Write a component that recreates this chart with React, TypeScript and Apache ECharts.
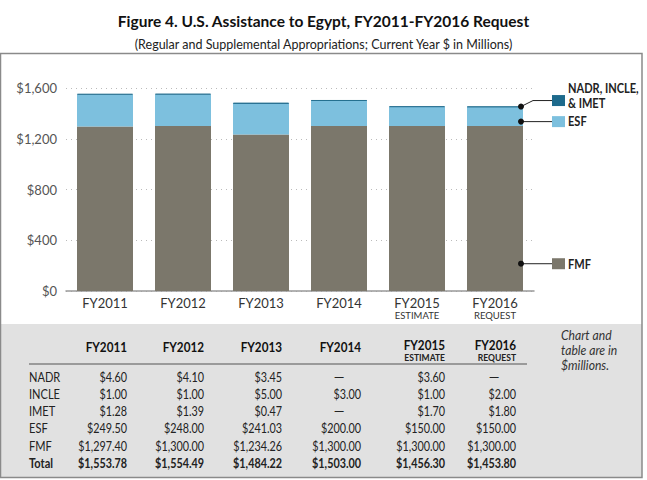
import React, { useEffect, useRef } from "react";
import * as echarts from "echarts";

const categories = ["FY2011", "FY2012", "FY2013", "FY2014", "FY2015", "FY2016"];
const categorySub = ["", "", "", "", "ESTIMATE", "REQUEST"];
const nadr: (number | null)[] = [4.6, 4.1, 3.45, null, 3.6, null];
const incle: (number | null)[] = [1.0, 1.0, 5.0, 3.0, 1.0, 2.0];
const imet: (number | null)[] = [1.28, 1.39, 0.47, null, 1.7, 1.8];
const esf = [249.5, 248.0, 241.03, 200.0, 150.0, 150.0];
const fmf = [1297.4, 1300.0, 1234.26, 1300.0, 1300.0, 1300.0];
const total = [1553.78, 1554.49, 1484.22, 1503.0, 1456.3, 1453.8];
const yTicks = [0, 400, 800, 1200, 1600];

const smallSum = categories.map((_, i) => (nadr[i] || 0) + (incle[i] || 0) + (imet[i] || 0));

const FONT = "Lato, 'Noto Sans', sans-serif";
const C_FMF = "#7b776b";
const C_ESF = "#7dc0de";
const C_DARK = "#1d6a8c";

const fmtMoney = (v: number) =>
  "$" + v.toLocaleString("en-US", { minimumFractionDigits: 2, maximumFractionDigits: 2 });

const txt = (
  text: string,
  x: number,
  y: number,
  font: string,
  align: string,
  sx: number,
  extra: any = {}
) => ({
  type: "text",
  x,
  y,
  scaleX: sx,
  z: 21,
  style: { text, align, verticalAlign: "middle", font, fill: "#222", ...extra },
});

export default function App() {
  const ref = useRef<HTMLDivElement>(null);
  useEffect(() => {
    if (!ref.current) return;
    const chart = echarts.init(ref.current, undefined, { renderer: "svg" });
    const option: any = {
      animation: false,
      backgroundColor: "#ffffff",
      textStyle: { fontFamily: FONT },
      title: [
        {
          text: "Figure 4. U.S. Assistance to Egypt, FY2011-FY2016 Request",
          left: "center",
          top: 8,
          textStyle: { fontSize: 15.5, fontWeight: "bold", color: "#111", fontFamily: FONT },
        },
        {
          text: "(Regular and Supplemental Appropriations; Current Year $ in Millions)",
          left: "center",
          top: 33,
          textStyle: { fontSize: 12.5, fontWeight: "normal", color: "#222", fontFamily: FONT },
        },
      ],
      grid: { left: 66, right: 113, top: 88, bottom: 189, containLabel: false },
      xAxis: {
        type: "category",
        data: categories,
        axisLine: { lineStyle: { color: "#999", width: 1.5 } },
        axisTick: { show: false },
        axisLabel: {
          interval: 0,
          margin: 5,
          color: "#333",
          fontSize: 13,
          fontFamily: FONT,
          formatter: (v: string, i: number) =>
            categorySub[i] ? `{a|${v}}\n{b|${categorySub[i]}}` : `{a|${v}}`,
          rich: {
            a: { fontSize: 13, color: "#333", fontFamily: FONT, lineHeight: 14 },
            b: { fontSize: 9.5, color: "#333", fontFamily: FONT, lineHeight: 10 },
          },
        },
      },
      yAxis: {
        type: "value",
        min: 0,
        max: 1600,
        interval: 400,
        axisLine: { show: false },
        axisTick: { show: false },
        axisLabel: {
          margin: 9,
          color: "#555",
          fontSize: 13,
          fontFamily: FONT,
          formatter: (v: number) => (yTicks.includes(v) ? "$" + v.toLocaleString("en-US") : ""),
        },
        splitLine: { lineStyle: { color: "#bbb", type: [1, 4], width: 1 } },
      },
      series: [
        {
          name: "FMF",
          type: "bar",
          stack: "t",
          data: fmf,
          barWidth: 56,
          itemStyle: { color: C_FMF },
        },
        {
          name: "ESF",
          type: "bar",
          stack: "t",
          data: esf,
          barWidth: 56,
          itemStyle: { color: C_ESF },
        },
        {
          name: "NADR, INCLE, & IMET",
          type: "bar",
          stack: "t",
          data: smallSum,
          barWidth: 56,
          itemStyle: { color: C_DARK, borderColor: C_DARK, borderWidth: 0.8 },
        },
      ],
    };
    chart.setOption(option);

    const g: any[] = [];
    g.push({
      type: "rect",
      z: -10,
      shape: { x: 0, y: 324, width: 642, height: 154 },
      style: { fill: "#e1e1e1" },
      silent: true,
    });
    g.push({
      type: "rect",
      z: 10,
      shape: { x: 0.5, y: 53.5, width: 641.5, height: 424 },
      style: { fill: "none", stroke: "#8a8a8a", lineWidth: 1.5 },
      silent: true,
    });
    g.push({
      type: "line",
      shape: { x1: 29, y1: 364, x2: 527, y2: 364 },
      style: { stroke: "#9a9a9a", lineWidth: 2 },
    });
    const colRight = [127, 204, 282, 361, 445, 516];
    categories.forEach((c, i) => {
      g.push(
        txt(c, colRight[i], categorySub[i] ? 345 : 347, `bold 13px ${FONT}`, "right", 0.9, {
          fill: "#111",
        })
      );
      if (categorySub[i]) {
        g.push(txt(categorySub[i], colRight[i], 357.5, `bold 9.5px ${FONT}`, "right", 0.9));
      }
    });
    const rows: { label: string; vals: (number | null)[]; bold?: boolean }[] = [
      { label: "NADR", vals: nadr },
      { label: "INCLE", vals: incle },
      { label: "IMET", vals: imet },
      { label: "ESF", vals: esf },
      { label: "FMF", vals: fmf },
      { label: "Total", vals: total, bold: true },
    ];
    const rowY = [377, 394, 411, 428, 446, 463];
    rows.forEach((r, ri) => {
      const font = r.bold ? `bold 13.5px ${FONT}` : `13.5px ${FONT}`;
      g.push(txt(r.label, 29, rowY[ri], font, "left", 0.82));
      r.vals.forEach((v, ci) => {
        if (v === null) {
          g.push(txt("—", colRight[ci] - 22, rowY[ri], font, "center", 1));
        } else {
          g.push(txt(fmtMoney(v), colRight[ci], rowY[ri], font, "right", 0.8));
        }
      });
    });
    g.push({
      type: "text",
      x: 561,
      y: 327,
      scaleX: 0.9,
      style: {
        text: "Chart and\ntable are in\n$millions.",
        align: "left",
        verticalAlign: "top",
        font: `italic 13.5px ${FONT}`,
        lineHeight: 15,
        fill: "#333",
      },
    });

    const last = categories.length - 1;
    const cx = chart.convertToPixel({ xAxisIndex: 0 }, categories[last]) as number;
    const edge = cx + 26;
    const yTop = chart.convertToPixel({ yAxisIndex: 0 }, total[last]) as number;
    const yEsf = chart.convertToPixel({ yAxisIndex: 0 }, fmf[last] + 35) as number;
    const yFmf = chart.convertToPixel({ yAxisIndex: 0 }, 215) as number;
    const sqX = 552;
    const callouts = [
      { y: yTop, ly: yTop - 6, color: C_DARK, text: "NADR, INCLE,\n& IMET", ty: 81 },
      { y: yEsf, ly: yEsf, color: C_ESF, text: "ESF", ty: yEsf - 7.5 },
      { y: yFmf, ly: yFmf, color: C_FMF, text: "FMF", ty: yFmf - 7.5 },
    ];
    callouts.forEach((c) => {
      g.push({
        type: "polyline",
        z: 20,
        shape: {
          points: [
            [edge, c.y],
            [edge + 12, c.ly],
            [sqX, c.ly],
          ],
        },
        style: { stroke: "#222", lineWidth: 1, fill: "none" },
      });
      g.push({
        type: "circle",
        z: 21,
        shape: { cx: edge, cy: c.y, r: 3 },
        style: { fill: "#111" },
      });
      g.push({
        type: "rect",
        z: 21,
        shape: { x: sqX, y: c.ly - 5.5, width: 13, height: 11 },
        style: { fill: c.color },
      });
      g.push({
        type: "text",
        z: 21,
        x: 568,
        y: c.ty,
        scaleX: 0.85,
        style: {
          text: c.text,
          align: "left",
          verticalAlign: "top",
          font: `bold 13px ${FONT}`,
          lineHeight: 15,
          fill: "#222",
        },
      });
    });
    chart.setOption({ graphic: g });
    return () => chart.dispose();
  }, []);
  return (
    <div
      ref={ref}
      style={{ position: "absolute", left: 0, top: 0, width: 647, height: 480 }}
    />
  );
}
